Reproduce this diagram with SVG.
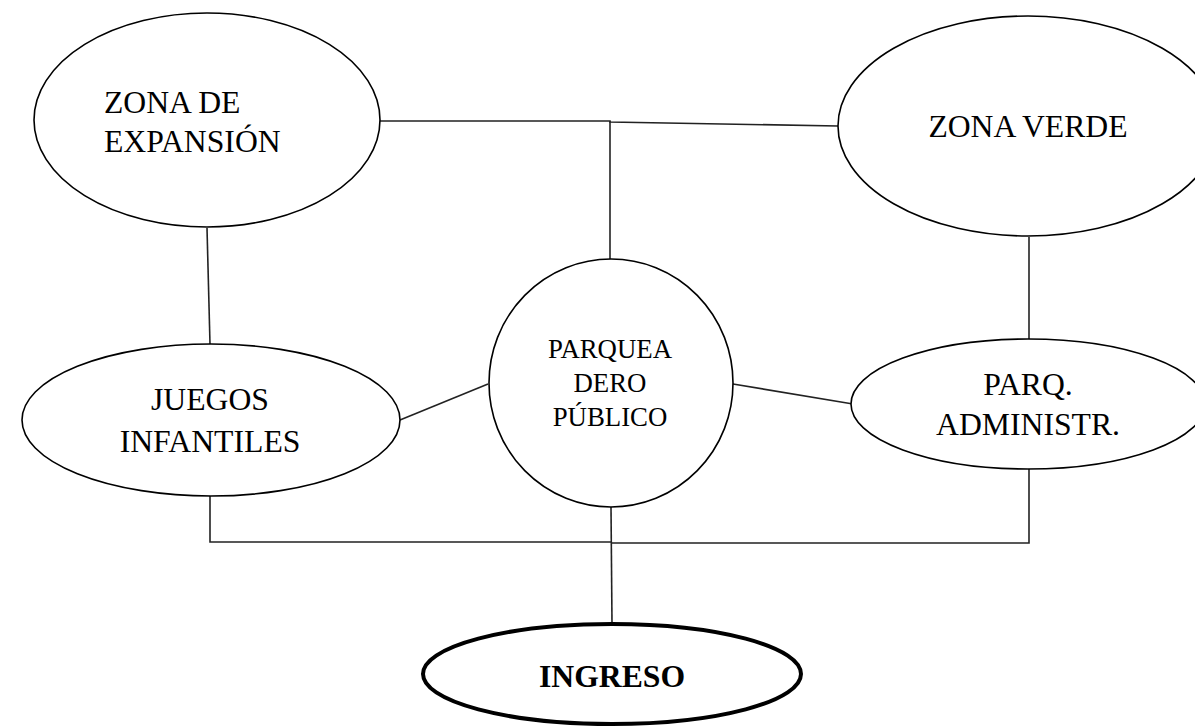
<svg xmlns="http://www.w3.org/2000/svg" width="1195" height="726" viewBox="0 0 1195 726">
<style>
.n{fill:#fff;stroke:#000;stroke-width:1.6}
.b{fill:#fff;stroke:#000;stroke-width:4}
text{font-family:'Liberation Serif','Times New Roman',serif;fill:#000;font-size:31.7px}
.s{font-size:26.8px}
.c{text-anchor:middle}
.e line,.e polyline{stroke:#222;stroke-width:1.6;fill:none}
</style>
<rect width="1195" height="726" fill="#fff"/>
<g class="e" id="connectors">
<polyline points="380,121 610,121 610,122 838,126"/>
<line x1="610" y1="121" x2="610" y2="259"/>
<line x1="207" y1="228" x2="210" y2="344"/>
<line x1="1029" y1="237" x2="1029" y2="339"/>
<line x1="400" y1="420" x2="488" y2="384"/>
<line x1="733" y1="384" x2="853" y2="404"/>
<polyline points="210,496 210,542 611,542"/>
<polyline points="611,543 1029,543 1029,469"/>
<line x1="611" y1="507" x2="612" y2="623"/>
</g>
<g id="zona-expansion">
<ellipse class="n" cx="207" cy="120" rx="173" ry="107"/>
<text x="104" y="113">ZONA DE</text>
<text x="104" y="152">EXPANSIÓN</text>
</g>
<g id="zona-verde">
<ellipse class="n" cx="1028" cy="126" rx="190" ry="110"/>
<text class="c" x="1028" y="137">ZONA VERDE</text>
</g>
<g id="juegos">
<ellipse class="n" cx="211" cy="420" rx="189" ry="76"/>
<text class="c" x="210" y="410">JUEGOS</text>
<text class="c" x="210" y="452">INFANTILES</text>
</g>
<g id="parqueadero">
<ellipse class="n" cx="611" cy="383" rx="122" ry="124"/>
<text class="s c" x="610" y="358">PARQUEA</text>
<text class="s c" x="610" y="392">DERO</text>
<text class="s c" x="610" y="426">PÚBLICO</text>
</g>
<g id="parq-admin">
<ellipse class="n" cx="1028" cy="404" rx="177" ry="65"/>
<text class="c" x="1028" y="395">PARQ.</text>
<text class="c" x="1028" y="435">ADMINISTR.</text>
</g>
<g id="ingreso">
<ellipse class="b" cx="612" cy="674" rx="189" ry="50"/>
<text class="c" x="612" y="687" font-weight="bold">INGRESO</text>
</g>
</svg>
